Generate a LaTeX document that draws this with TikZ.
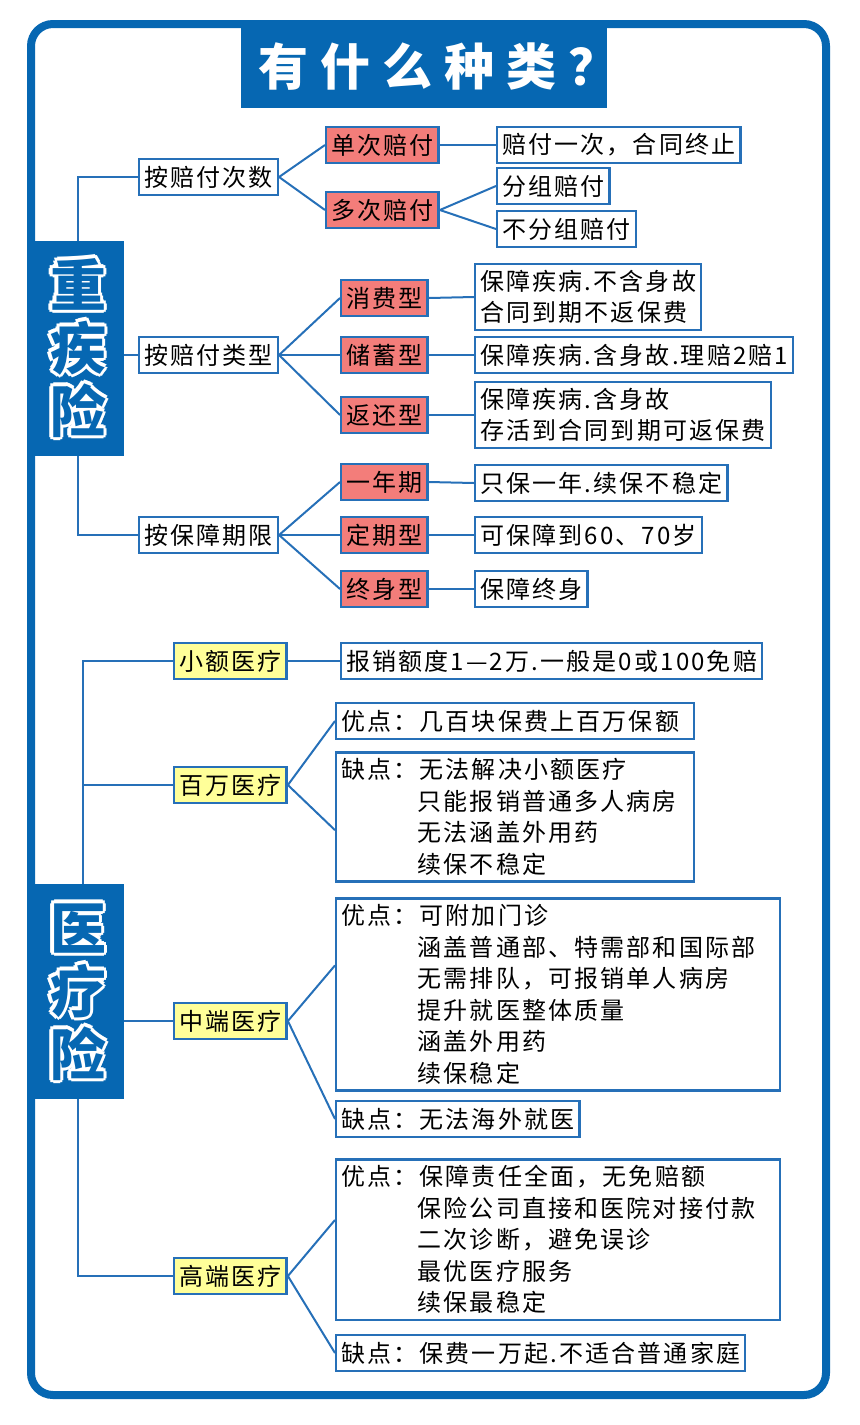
\documentclass[tikz,border=0pt]{standalone}
\usepackage{fontspec}
\setmainfont{Noto Sans CJK SC}[LetterSpace=9]
\newfontfamily\bubfont{Noto Sans CJK SC}
\newfontfamily\ttlfont{Noto Sans CJK SC}[LetterSpace=24]
\usepackage{tikz}
\usetikzlibrary{calc,positioning}
\definecolor{frameblue}{RGB}{6,103,178}
\definecolor{lineblue}{RGB}{38,112,184}
\definecolor{kindred}{RGB}{243,125,122}
\definecolor{medyellow}{RGB}{255,255,153}
\newcommand{\indt}{\hphantom{优点：}}
\newcommand{\bubtext}[2]{%
  \foreach \a in {0,45,...,315}
    \node[bub, text=white] at ($#1+(\a:3.5)$) {#2};
  \node[bub, text=frameblue] at #1 {#2};}

\begin{document}
\begin{tikzpicture} [
      x = 0.5pt, y = -0.5pt,
      box/.style = { draw = lineblue, line width = 1.2pt, anchor = west, inner xsep = 2.5pt, inner ysep = 3pt, minimum height = 18pt, font = \fontsize{12}{15.75}\selectfont },
      cat/.style = { box, fill = white },
      kind/.style = { box, fill = kindred },
      med/.style = { box, fill = medyellow },
      note/.style = { box, fill = white, align = left },
      blk/.style = { fill = frameblue, minimum width = 46.5pt, minimum height = 107.5pt, inner sep = 0 },
      bub/.style = { font = \bubfont\bfseries\fontsize{28}{31.5}\selectfont, align = center, inner sep = 0 },
      ttl/.style = { font = \ttlfont\bfseries\fontsize{25}{30}\selectfont, text = white, inner sep = 0 },
      conn/.style = { lineblue, line width = 1pt }
      ]
    \useasboundingbox (0,0) rectangle (860,1425);

    % frame and title
    \draw [frameblue, line width = 4pt, rounded corners = 11pt] (31,24) rectangle (826,1395);
    \fill [frameblue] (241,24) rectangle (607,108);
    \node [ttl] (title) at (438,67) {有什么种类？};

    % side blocks
    \node [blk] (hv) at (77.5,348.5) {};
    \bubtext{(78,348)}{重\\疾\\险}
    \node [blk] (mv) at (77.5,991.5) {};
    \bubtext{(78,992)}{医\\疗\\险}

    % heavy disease
    \node [cat] (c1) at (138,177) {按赔付次数};
    \node [kind] (k1) at (325,145) {单次赔付};
    \node [kind] (k2) at (325,210) {多次赔付};
    \node [note] (n1) at (496,145) {赔付一次，合同终止};
    \node [note] (n2a) at (496,186) {分组赔付};
    \node [note] (n2b) at (496,229) {不分组赔付};

    \node [cat] (c2) at (138,355) {按赔付类型};
    \node [kind] (k3) at (340,298) {消费型};
    \node [kind] (k4) at (340,355) {储蓄型};
    \node [kind] (k5) at (340,415) {返还型};
    \node [note] (n3) at (474,297) {保障疾病.不含身故\\合同到期不返保费};
    \node [note] (n4) at (474,355) {保障疾病.含身故.理赔2赔1};
    \node [note] (n5) at (474,415) {保障疾病.含身故\\存活到合同到期可返保费};

    \node [cat] (c3) at (138,535) {按保障期限};
    \node [kind] (k6) at (340,482) {一年期};
    \node [kind] (k7) at (340,535) {定期型};
    \node [kind] (k8) at (340,589) {终身型};
    \node [note] (n6) at (474,483) {只保一年.续保不稳定};
    \node [note] (n7) at (474,535) {可保障到60、70岁};
    \node [note] (n8) at (474,589) {保障终身};

    % medical
    \node [med] (m1) at (173,661) {小额医疗};
    \node [note] (p1) at (340,661) {报销额度1—2万.一般是0或100免赔};
    \node [med] (m2) at (173,785) {百万医疗};
    \node [note, text width = 174pt] (p2) at (335,721) {优点：几百块保费上百万保额};
    \node [note, text width = 174pt] (q2) at (335,817) {缺点：无法解决小额医疗\\\indt 只能报销普通多人病房\\\indt 无法涵盖外用药\\\indt 续保不稳定};
    \node [med] (m3) at (173,1021) {中端医疗};
    \node [note, text width = 217pt] (p3) at (335,994.5) {优点：可附加门诊\\\indt 涵盖普通部、特需部和国际部\\\indt 无需排队，可报销单人病房\\\indt 提升就医整体质量\\\indt 涵盖外用药\\\indt 续保稳定};
    \node [note] (q3) at (335,1119) {缺点：无法海外就医};
    \node [med] (m4) at (173,1276) {高端医疗};
    \node [note, text width = 217pt] (p4) at (335,1239.5) {优点：保障责任全面，无免赔额\\\indt 保险公司直接和医院对接付款\\\indt 二次诊断，避免误诊\\\indt 最优医疗服务\\\indt 续保最稳定};
    \node [note] (q4) at (335,1353) {缺点：保费一万起.不适合普通家庭};

    % connectors
    \draw [conn] (hv.north) |- (c1.west);
    \draw [conn] (hv.east |- c2.west) -- (c2.west);
    \draw [conn] (hv.south) |- (c3.west);
    \foreach \k in {k1,k2} \draw [conn] (c1.east) -- (\k.west);
    \foreach \k in {k3,k4,k5} \draw [conn] (c2.east) -- (\k.west);
    \foreach \k in {k6,k7,k8} \draw [conn] (c3.east) -- (\k.west);
    \draw [conn] (k1.east) -- (n1.west);
    \draw [conn] (k2.east) -- (n2a.west);
    \draw [conn] (k2.east) -- (n2b.west);
    \foreach \k/\n in {k3/n3,k4/n4,k5/n5,k6/n6,k7/n7,k8/n8} \draw [conn] (\k.east) -- (\n.west);

    \draw [conn] ([xshift = 2.5pt]mv.north) |- (m1.west);
    \draw [conn] ([xshift = 2.5pt]mv.north |- m2.west) -- (m2.west);
    \draw [conn] (mv.east |- m3.west) -- (m3.west);
    \draw [conn] (mv.south) |- (m4.west);
    \draw [conn] (m1.east) -- (p1.west);
    \draw [conn] (m2.east) -- (p2.west);
    \draw [conn] (m2.east) -- ($(q2.north west)!0.6!(q2.south west)$);
    \draw [conn] (m3.east) -- ($(p3.north west)!0.35!(p3.south west)$);
    \draw [conn] (m3.east) -- (q3.west);
    \draw [conn] (m4.east) -- ($(p4.north west)!0.38!(p4.south west)$);
    \draw [conn] (m4.east) -- (q4.west);
\end{tikzpicture}
\end{document}
